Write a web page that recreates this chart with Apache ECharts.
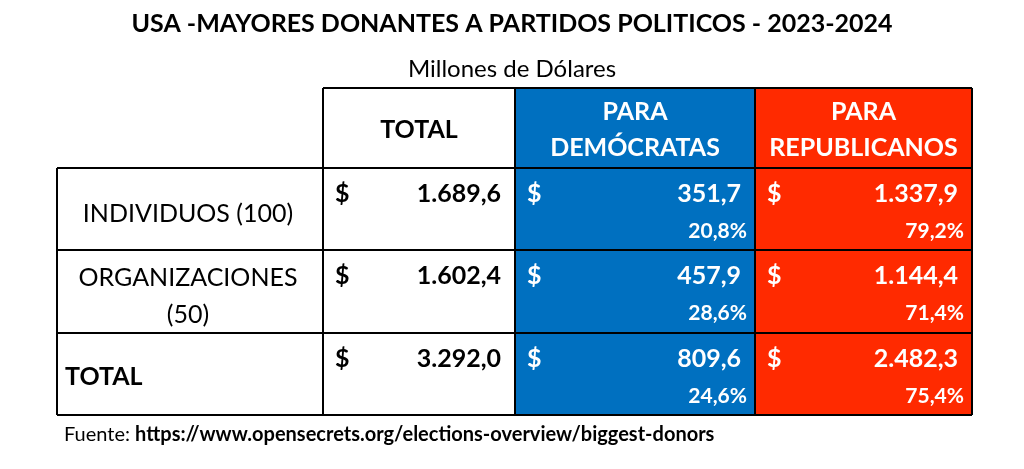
<!DOCTYPE html>
<html><head><meta charset="utf-8">
<script src="https://cdn.jsdelivr.net/npm/echarts@6/dist/echarts.min.js"></script>
<style>html,body{margin:0;background:#fff}#c{width:1024px;height:469px}</style>
</head><body><div id="c"></div>
<script>
const title = 'USA -MAYORES DONANTES A PARTIDOS POLITICOS - 2023-2024';
const subtitle = 'Millones de Dólares';
const headers = ['', 'TOTAL', 'PARA\nDEMÓCRATAS', 'PARA\nREPUBLICANOS'];
const rowLabels = ['INDIVIDUOS (100)', 'ORGANIZACIONES\n(50)', 'TOTAL'];
const totals = ['1.689,6', '1.602,4', '3.292,0'];
const demValues = ['351,7', '457,9', '809,6'];
const demPct = ['20,8%', '28,6%', '24,6%'];
const repValues = ['1.337,9', '1.144,4', '2.482,3'];
const repPct = ['79,2%', '71,4%', '75,4%'];
const source = 'https://www.opensecrets.org/elections-overview/biggest-donors';

const colW = [266, 192, 240, 217];
const rowH = [80, 82, 83, 82];
const colEdge = [0]; colW.forEach(w => colEdge.push(colEdge[colEdge.length-1]+w));
const rowEdge = [0]; rowH.forEach(h => rowEdge.push(rowEdge[rowEdge.length-1]+h));
const FONT = 'Lato, "Open Sans", sans-serif';
const BLUE = '#0070C0', RED = '#FF2A00';

const cells = [];
for (let r = 0; r < 4; r++) for (let c = 0; c < 4; c++) cells.push([c, r]);

function renderItem(params, api) {
  const c = api.value(0), r = api.value(1);
  const p0 = api.coord([colEdge[c], rowEdge[r]]);
  const p1 = api.coord([colEdge[c+1], rowEdge[r+1]]);
  const x = p0[0], y = p0[1], w = p1[0]-p0[0], h = p1[1]-p0[1];
  const ch = [];
  const fillC = c === 2 ? BLUE : c === 3 ? RED : '#fff';
  ch.push({type:'rect', shape:{x, y, width:w, height:h}, style:{fill:fillC, stroke:null}});
  const txtCol = (c >= 2) ? '#fff' : '#000';
  const t = (text, tx, ty, size, bold, align, color) => ch.push({type:'text', style:{text, x:tx, y:ty, fill:color||txtCol, font:(bold?'bold ':'')+size+'px '+FONT, align, verticalAlign:'middle', lineHeight:size*1.45}});
  if (r === 0) {
    if (c > 0) t(headers[c], x+w/2, y+h/2+2, 25, true, 'center');
  } else {
    const i = r-1;
    if (c === 0) {
      if (i === 2) t(rowLabels[i], x+8, y+h/2+3, 25, true, 'left');
      else t(rowLabels[i], x+w/2-2, y+h/2+5, 25, false, 'center');
    } else {
      t('$', x+12, y+26, 25, true, 'left');
      const v = c===1 ? totals[i] : c===2 ? demValues[i] : repValues[i];
      t(v, x+w-14, y+26, 25, true, 'right');
      if (c >= 2) t(c===2 ? demPct[i] : repPct[i], x+w-8, y+63, 21, true, 'right');
    }
  }
  // borders
  const L = (x1,y1,x2,y2) => ch.push({type:'line', shape:{x1,y1,x2,y2}, style:{stroke:'#000', lineWidth:2}});
  if (!(r===0 && c===0)) {
    L(x,y+h,x+w,y+h); L(x+w,y,x+w,y+h);
    if (r > 0 || c > 0) L(x,y,x+w,y);
    if (c > 0 || r > 0) L(x,y,x,y+h);
  }
  if (r===0 && c===0) { L(x+w,y,x+w,y+h); L(x,y+h,x+w,y+h); }
  return {type:'group', children:ch};
}

const chart = echarts.init(document.getElementById('c'));
chart.setOption({
  backgroundColor:'#fff',
  animation:false,
  title:[
    {text:title, left:'center', top:6, textStyle:{fontFamily:FONT, fontSize:25, fontWeight:'bold', color:'#000'}},
    {text:subtitle, left:'center', top:52, textStyle:{fontFamily:FONT, fontSize:24, fontWeight:'normal', color:'#000'}}
  ],
  graphic:[{type:'text', left:64, top:425, style:{rich:{a:{fontFamily:FONT,fontSize:20,color:'#222'},b:{fontFamily:FONT,fontSize:20,fontWeight:'bold',color:'#1F5FA0'}}, text:'{a|Fuente: }{b|'+source+'}'}}],
  grid:{left:57, right:52, top:88, bottom:54},
  xAxis:{type:'value', min:0, max:colEdge[4], show:false},
  yAxis:{type:'value', min:0, max:rowEdge[4], inverse:true, show:false},
  series:[{type:'custom', renderItem, data:cells, silent:true}]
});
</script></body></html>
